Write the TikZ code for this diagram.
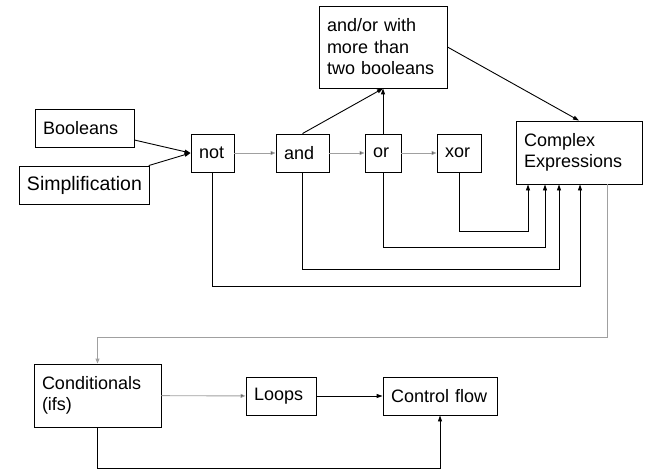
\documentclass[tikz,border=0pt]{standalone}
\usepackage{fontspec}
\setmainfont{Liberation Sans}
\usetikzlibrary{arrows.meta}
\definecolor{flowgray}{HTML}{A0A0A0}
\tikzset{
	box/.style={draw, line width=0.9pt, inner xsep=8pt, inner ysep=0pt, align=left, minimum height=38pt, font=\fontsize{18}{21.5}\selectfont},
	link/.style={line width=0.9pt, -{Triangle[length=6pt,width=4pt]}},
	softlink/.style={line width=0.9pt, draw=flowgray, -{Triangle[length=5pt,width=4pt]}}
}

\begin{document}
\begin{tikzpicture}[x=1pt, y=-1pt]
	\useasboundingbox (0,0) rectangle (661,476);

	\node[box, text width=83pt] (bool) at (84.5,128.5) {Booleans};
	\node[box, text width=114pt, font=\fontsize{19.5}{21.5}\selectfont] (simp) at (84,185) {Simplification};
	\node[box, text width=27pt] (not) at (212.5,153) {not};
	\node[box, text width=37pt] (and) at (302.5,153) {and};
	\node[box, text width=20pt] (or) at (383,153) {or};
	\node[box, text width=28pt] (xor) at (459,153) {xor};
	\node[box, text width=112pt, minimum height=82pt] (multi) at (383,47) {and/or with\\more than\\two booleans};
	\node[box, text width=110pt, minimum height=63pt] (complex) at (579,152.5) {Complex\\Expressions};
	\node[box, text width=111pt, minimum height=63pt] (cond) at (97.5,395.5) {Conditionals\\(ifs)};
	\node[box, text width=54pt] (loops) at (281,396) {Loops};
	\node[box, text width=98pt] (control) at (440,396) {Control flow};

	% turning points of the routed lines
	\coordinate (xorin) at (528,231);
	\coordinate (orin) at (545,247);
	\coordinate (andin) at (559,269);
	\coordinate (notin) at (580,286);
	\coordinate (down) at (607,337);
	\coordinate (bottom) at (440,468);

	\path [link]
	(bool) edge (not.west)
	(simp) edge (not.west)
	(and.north) edge (multi.south)
	(or) edge (multi.south)
	(multi.east) edge (complex.north)
	(loops) edge (control);

	\path [softlink]
	(not) edge (and)
	(and) edge (or)
	(or) edge (xor)
	(cond) edge (loops);

	\draw [link] (xor) |- (xorin) -- (xorin |- complex.south);
	\draw [link] (or) |- (orin) -- (orin |- complex.south);
	\draw [link] (and) |- (andin) -- (andin |- complex.south);
	\draw [link] (not) |- (notin) -- (notin |- complex.south);
	\draw [softlink] (complex.south -| down) -- (down) -| (cond.north);
	\draw [link] (cond) |- (bottom) -- (control.south);
\end{tikzpicture}
\end{document}
